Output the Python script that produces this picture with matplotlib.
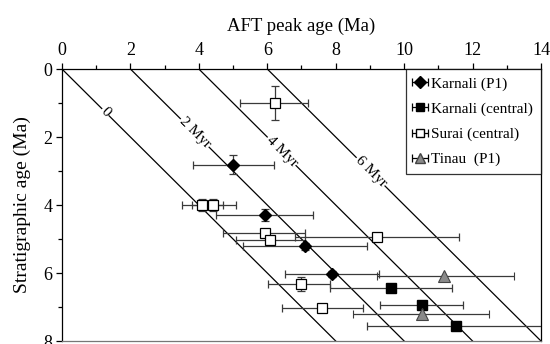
import numpy as np
import matplotlib
matplotlib.use("Agg")
import matplotlib.pyplot as plt

plt.rcParams['font.family'] = ['Liberation Serif', 'DejaVu Serif']

# ---- data ----
karnali_p1_x = [5.0, 5.94, 7.1, 7.9]
karnali_p1_y = [2.82, 4.3, 5.22, 6.03]
karnali_p1_xlo = [1.18, 1.44, 1.8, 1.38]
karnali_p1_xhi = [1.2, 1.39, 1.82, 1.37]
karnali_p1_yerr = [0.28, 0.18, 0.1, 0.1]

karnali_c_x = [9.61, 10.52, 11.51]
karnali_c_y = [6.45, 6.94, 7.55]
karnali_c_xlo = [1.79, 1.22, 2.6]
karnali_c_xhi = [1.8, 1.2, 2.8]

surai_x = [6.23, 4.1, 4.41, 5.92, 6.08, 9.2, 7.0, 7.61]
surai_y = [1.01, 4.0, 4.0, 4.83, 5.03, 4.93, 6.33, 7.04]
surai_xlo = [1.03, 0.6, 0.6, 1.21, 0.98, 2.4, 0.97, 1.19]
surai_xhi = [0.97, 0.6, 0.69, 1.18, 1.02, 2.4, 0.84, 1.18]
surai_yerr = [0.5, 0.17, 0.17, 0.12, 0.12, 0.0, 0.21, 0.0]

tinau_x = [11.18, 10.52]
tinau_y = [6.1, 7.21]
tinau_xlo = [1.96, 2.0]
tinau_xhi = [2.02, 1.97]

lag_times = [0, 2, 4, 6]
lag_labels = ["0", "2 Myr", "4 Myr", "6 Myr"]
lag_label_y = [1.27, 1.88, 2.42, 3.02]

series_names = ["Karnali (P1)", "Karnali (central)", "Surai (central)", "Tinau  (P1)"]

# ---- figure ----
fig = plt.figure(figsize=(5.5, 3.44), dpi=100)
ax = fig.add_axes([0.1127, 0.0087, 0.8709, 0.7907])
ax.set_xlim(0, 14)
ax.set_ylim(8, 0)

# lag-time lines
for lag, lab, ly in zip(lag_times, lag_labels, lag_label_y):
    ys = np.array([0, 8])
    ax.plot(ys + lag, ys, color='black', lw=0.9, zorder=1, clip_on=True)
    p1 = ax.transData.transform((0 + lag, 0))
    p2 = ax.transData.transform((8 + lag, 8))
    ang = np.degrees(np.arctan2(p2[1] - p1[1], p2[0] - p1[0]))
    ax.text(ly + lag, ly, lab, rotation=ang, rotation_mode='anchor',
            ha='center', va='center', fontsize=11, zorder=2,
            bbox=dict(facecolor='white', edgecolor='none', pad=0.5))

ecol = '#3a3a3a'
kw = dict(ecolor=ecol, elinewidth=0.9, capsize=3, capthick=0.9, linestyle='none', zorder=4)

ax.errorbar(karnali_p1_x, karnali_p1_y,
            xerr=[karnali_p1_xlo, karnali_p1_xhi], yerr=karnali_p1_yerr,
            fmt='D', mfc='black', mec='black', ms=6, **kw)
ax.errorbar(karnali_c_x, karnali_c_y,
            xerr=[karnali_c_xlo, karnali_c_xhi],
            fmt='s', mfc='black', mec='black', ms=7, **kw)
ax.errorbar(surai_x, surai_y,
            xerr=[surai_xlo, surai_xhi], yerr=surai_yerr,
            fmt='s', mfc='white', mec='black', mew=0.9, ms=7, **kw)
ax.errorbar(tinau_x, tinau_y,
            xerr=[tinau_xlo, tinau_xhi],
            fmt='^', mfc='#8a8a8a', mec='#444444', mew=0.8, ms=8, **kw)

# legend proxies
hkw = dict(ecolor='black', elinewidth=0.9, capsize=3, capthick=0.9, linestyle='none')
h1 = ax.errorbar([np.nan], [np.nan], xerr=[0.1], fmt='D', mfc='black', mec='black', ms=6, **hkw)
h2 = ax.errorbar([np.nan], [np.nan], xerr=[0.1], fmt='s', mfc='black', mec='black', ms=6, **hkw)
h3 = ax.errorbar([np.nan], [np.nan], xerr=[0.1], fmt='s', mfc='white', mec='black', ms=6, **hkw)
h4 = ax.errorbar([np.nan], [np.nan], xerr=[0.1], fmt='^', mfc='#8a8a8a', mec='#444444', ms=7, **hkw)
leg = ax.legend([h1, h2, h3, h4], series_names, loc='upper right', fontsize=11,
                frameon=True, fancybox=False, borderaxespad=0, handlelength=0.8,
                handletextpad=0.35, borderpad=0.5, labelspacing=0.75,
                bbox_to_anchor=(1.0, 1.0))
leg.get_frame().set_edgecolor('black')
leg.get_frame().set_linewidth(0.9)

# axes styling
ax.xaxis.tick_top()
ax.xaxis.set_label_position('top')
ax.set_xticks(np.arange(0, 15, 2))
ax.set_xticks(np.arange(1, 14, 2), minor=True)
ax.set_yticks(np.arange(0, 9, 2))
ax.set_yticks(np.arange(1, 8, 2), minor=True)
ax.tick_params(axis='both', which='major', direction='out', length=4, width=0.9,
               labelsize=13, pad=3)
ax.tick_params(axis='both', which='minor', direction='out', length=3, width=0.9)
ax.set_xlabel("AFT peak age (Ma)", fontsize=13.5, labelpad=8)
ax.set_ylabel("Stratigraphic age (Ma)", fontsize=14, labelpad=9)
for s in ax.spines.values():
    s.set_linewidth(0.9)
ax.spines['bottom'].set_color('#777777')

fig.savefig("out.png", dpi=100)
